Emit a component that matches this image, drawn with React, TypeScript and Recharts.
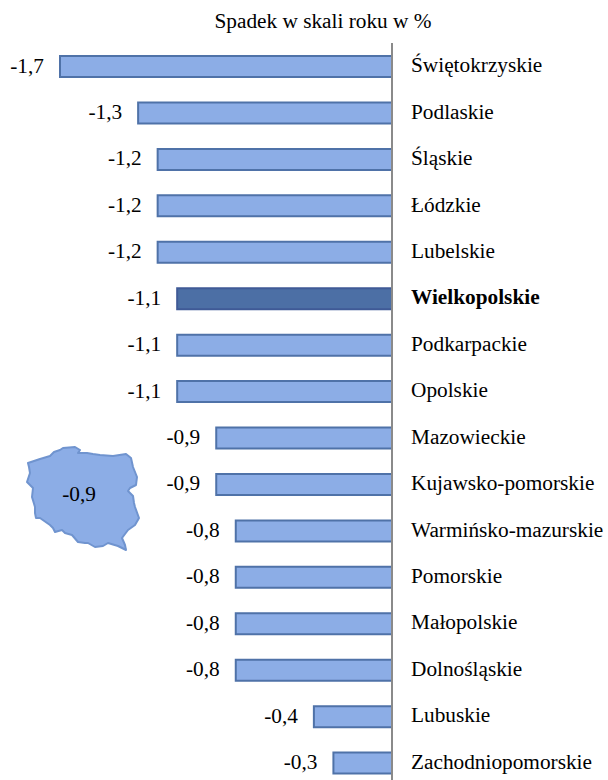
import { BarChart, Bar, Cell, XAxis, YAxis, LabelList } from 'recharts'

const regions = [
  'Świętokrzyskie',
  'Podlaskie',
  'Śląskie',
  'Łódzkie',
  'Lubelskie',
  'Wielkopolskie',
  'Podkarpackie',
  'Opolskie',
  'Mazowieckie',
  'Kujawsko-pomorskie',
  'Warmińsko-mazurskie',
  'Pomorskie',
  'Małopolskie',
  'Dolnośląskie',
  'Lubuskie',
  'Zachodniopomorskie',
]
const values = [-1.7, -1.3, -1.2, -1.2, -1.2, -1.1, -1.1, -1.1, -0.9, -0.9, -0.8, -0.8, -0.8, -0.8, -0.4, -0.3]
const highlighted = 'Wielkopolskie'
const nationalValue = '-0,9'
const title = 'Spadek w skali roku w %'

const data = regions.map((region, i) => ({ region, value: values[i] }))

const font = '"Liberation Serif", "Times New Roman", serif'
// country outline, decoration only
const mapOutline =
  'M28 463 L40 459 L50 456 L54 452 L60 450 L63 448 L75 447 L80 450 L78 453 L87 453 L93 454 L100 455 L113 456 L126 454 L131 458 L133 467 L137 477 L136 485 L130 488 L128 491 L133 496 L134 503 L135 507 L139 518 L135 525 L128 530 L125 534 L122 538 L125 545 L126 550 L118 546 L108 543 L103 546 L95 547 L88 543 L85 543 L78 542 L72 535 L65 533 L62 530 L55 532 L53 528 L50 525 L40 518 L36 518 L35 513 L35 507 L32 497 L33 488 L27 482 L30 473 L29 467 Z'

function RegionTick({ x, y, payload }: any) {
  const bold = payload.value === highlighted
  return (
    <text x={x + 11} y={y} dy={6} fontFamily={font} fontSize={21.3} fontWeight={bold ? 700 : 400} fill="#000">
      {payload.value}
    </text>
  )
}

function ValueLabel({ x, y, width, height, value }: any) {
  const left = Math.min(x, x + width)
  return (
    <text x={left - 16} y={y + height / 2} dy={6} textAnchor="end" fontFamily={font} fontSize={21.3} fill="#000">
      {String(value).replace('.', ',')}
    </text>
  )
}

export default function App() {
  return (
    <div style={{ position: 'absolute', left: 0, top: 0, width: 608, height: 780, overflow: 'hidden', background: '#fff' }}>
      <div style={{ position: 'absolute', left: 0, width: 646, top: 9, textAlign: 'center', fontFamily: font, fontSize: 21.3, lineHeight: '24px' }}>
        {title}
      </div>
      <BarChart
        width={608}
        height={800}
        data={data}
        layout="vertical"
        barSize={21}
        margin={{ top: 43, right: 0, bottom: 14, left: 60 }}
      >
        <XAxis type="number" domain={[-1.7, 0]} hide />
        <YAxis
          type="category"
          dataKey="region"
          orientation="right"
          width={216}
          interval={0}
          tickLine={false}
          axisLine={{ stroke: '#8a8a8a', strokeWidth: 2 }}
          tick={<RegionTick />}
        />
        <Bar dataKey="value" isAnimationActive={false} strokeWidth={2}>
          {data.map((d) => (
            <Cell
              key={d.region}
              fill={d.region === highlighted ? '#4c6fa5' : '#8cade6'}
              stroke={d.region === highlighted ? '#3f5a96' : '#4f72a8'}
            />
          ))}
          <LabelList dataKey="value" content={<ValueLabel />} />
        </Bar>
      </BarChart>
      <svg width={160} height={130} viewBox="20 440 160 130" style={{ position: 'absolute', left: 20, top: 440 }}>
        <path d={mapOutline} fill="#8cade6" stroke="#7094cf" strokeWidth={2} strokeLinejoin="round" />
        <text x={79} y={501} textAnchor="middle" fontFamily={font} fontSize={21.3} fill="#000">
          {nationalValue}
        </text>
      </svg>
    </div>
  )
}
